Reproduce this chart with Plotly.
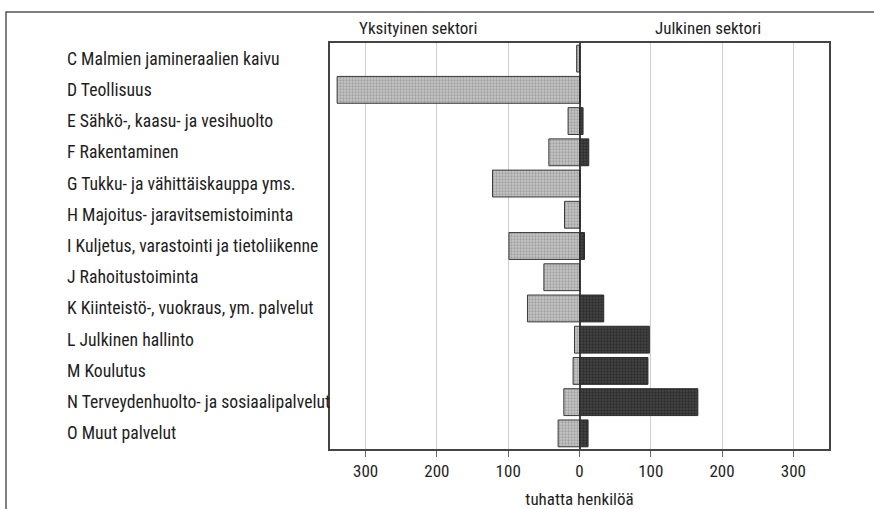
import plotly.graph_objects as go

categories = [
    "C Malmien jamineraalien kaivu",
    "D Teollisuus",
    "E Sähkö-, kaasu- ja vesihuolto",
    "F Rakentaminen",
    "G Tukku- ja vähittäiskauppa yms.",
    "H Majoitus- jaravitsemistoiminta",
    "I Kuljetus, varastointi ja tietoliikenne",
    "J Rahoitustoiminta",
    "K Kiinteistö-, vuokraus, ym. palvelut",
    "L Julkinen hallinto",
    "M Koulutus",
    "N Terveydenhuolto- ja sosiaalipalvelut",
    "O Muut palvelut",
]
private_sector = [4, 340, 16, 43, 122, 21, 99, 50, 73, 7, 9, 22, 30]
public_sector = [0.5, 1, 5, 13, 1, 1, 7, 0.5, 34, 98, 96, 166, 12]
tick_values = [-300, -200, -100, 0, 100, 200, 300]
tick_labels = ["300", "200", "100", "0", "100", "200", "300"]
header_private = "Yksityinen sektori"
header_public = "Julkinen sektori"
x_title = "tuhatta henkilöä"

FONT = "Liberation Sans Narrow, Roboto Condensed, Roboto, sans-serif"
TXT = "#1e1e1e"

fig = go.Figure()
fig.add_trace(go.Bar(
    y=categories, x=[-v for v in private_sector], orientation="h",
    width=0.86, name=header_private,
    marker=dict(color="#bdbdbd", line=dict(color="#3a3a3a", width=1),
                pattern=dict(shape=".", fgcolor="#7a7a7a", bgcolor="#c6c6c6", size=3, solidity=0.45)),
))
fig.add_trace(go.Bar(
    y=categories, x=public_sector, orientation="h",
    width=0.86, name=header_public,
    marker=dict(color="#333333", line=dict(color="#2a2a2a", width=1),
                pattern=dict(shape=".", fgcolor="#111111", bgcolor="#444444", size=3, solidity=0.45)),
))

L, R, T, B = 330, 45, 43, 60
W, H = 874, 509
pw, ph = W - L - R, H - T - B

annotations = []
for c in categories:
    annotations.append(dict(
        x=(65 - L) / pw, xref="paper", y=c, yref="y", text=c, showarrow=False,
        xanchor="left", yanchor="middle", font=dict(family=FONT, size=17.7, color=TXT),
    ))
annotations.append(dict(x=(418 - L) / pw, xref="paper", y=1 + (T - 28) / ph, yref="paper", text=header_private,
                        showarrow=False, xanchor="center", yanchor="middle",
                        font=dict(family=FONT, size=17, color=TXT)))
annotations.append(dict(x=(708 - L) / pw, xref="paper", y=1 + (T - 28) / ph, yref="paper", text=header_public,
                        showarrow=False, xanchor="center", yanchor="middle",
                        font=dict(family=FONT, size=17, color=TXT)))

fig.update_layout(
    width=W, height=H,
    margin=dict(l=L, r=R, t=T, b=B, autoexpand=False),
    barmode="relative", bargap=0.14,
    showlegend=False,
    plot_bgcolor="white", paper_bgcolor="white",
    annotations=annotations,
    shapes=[dict(type="rect", xref="paper", yref="paper",
                 x0=(6 - L) / pw, x1=1.5, y0=-0.5, y1=1 + (T - 12) / ph,
                 line=dict(color="#555555", width=1.5), layer="below")],
)
fig.update_xaxes(
    range=[-350, 350], tickvals=tick_values, ticktext=tick_labels,
    showgrid=True, gridcolor="#cfcfcf", gridwidth=1,
    zeroline=True, zerolinecolor="#444444", zerolinewidth=1.5,
    showline=True, linecolor="#444444", linewidth=1.5, mirror=True,
    ticks="outside", ticklen=6, tickcolor="#666666",
    ticklabelstandoff=0,
    tickfont=dict(family=FONT, size=17, color=TXT),
    title=dict(text=x_title, font=dict(family=FONT, size=17, color=TXT), standoff=17),
    automargin=False,
    fixedrange=True,
)
fig.update_yaxes(
    categoryorder="array", categoryarray=categories, autorange="reversed",
    showticklabels=False, showgrid=False,
    showline=True, linecolor="#444444", linewidth=1.5, mirror=True,
    automargin=False,
    fixedrange=True,
)
fig.write_html("out.html", config={"displayModeBar": False},
               post_script="document.body.style.margin='0px';document.body.style.overflow='hidden';")
